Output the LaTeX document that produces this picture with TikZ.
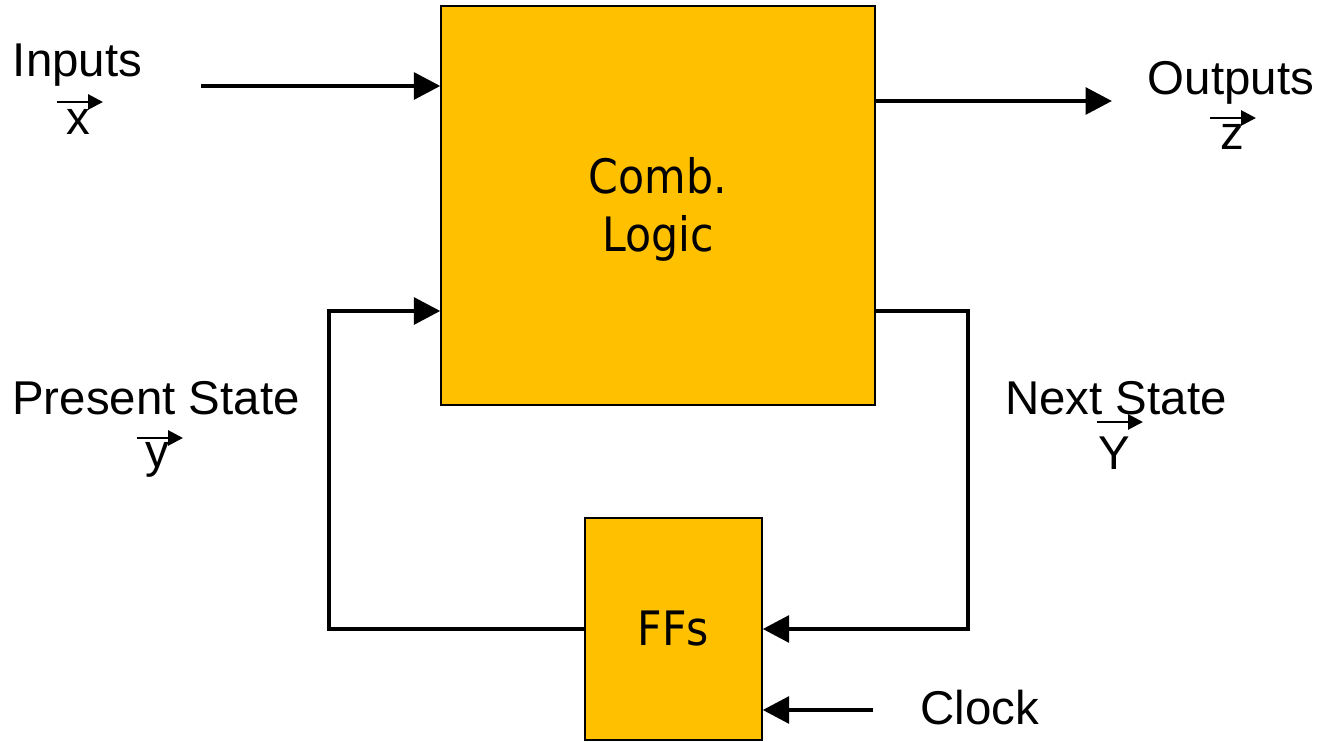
\documentclass[tikz,border=0pt]{standalone}
\usepackage{fontspec}
\setmainfont{Liberation Sans}
\newfontfamily\boxfont{DejaVu Sans Condensed}
\usetikzlibrary{calc,arrows.meta}
\definecolor{blockfill}{HTML}{FFC000}

\begin{document}
\begin{tikzpicture}[x=0.02cm,y=-0.02cm,
  block/.style={draw=black,line width=0.8pt,fill=blockfill,inner sep=0pt,align=center,
    font=\boxfont\fontsize{27}{33}\selectfont},
  wire/.style={line width=2.7pt},
  sig/.style={wire,-{Triangle[length=15pt,width=15pt]}},
  lbl/.style={font=\fontsize{27}{32}\selectfont,anchor=base,inner sep=0pt},
  vecarrow/.style={line width=1.6pt,-{Triangle[length=8.5pt,width=8.5pt]}}]
  \useasboundingbox (0,0) rectangle (1319,742);
  % Blocks
  \node[block,minimum width=8.68cm,minimum height=7.98cm] (comb) at (658,205.5) {};
  \node[font=\boxfont\fontsize{27}{33}\selectfont,align=center,inner sep=0pt] (combtxt) at (658,209.5) {Comb.\\Logic};
  \node[block,minimum width=3.54cm,minimum height=4.44cm] (ffs) at (673.5,629) {FFs};
  % Labels
  \node[lbl] (inlbl) at (77.5,77) {Inputs};
  \node[lbl] (xl) at (78,135) {x};
  \node[lbl] (outlbl) at (1231,95) {Outputs};
  \node[lbl] (zl) at (1232,150) {z};
  \node[lbl] (pslbl) at (156,415) {Present State};
  \node[lbl] (yl) at (157,468) {y};
  \node[lbl] (nslbl) at (1116,415) {Next State};
  \node[lbl] (bigyl) at (1114,470) {Y};
  \node[lbl] (clklbl) at (980,725) {Clock};
  % Vector arrows over the letters
  \foreach \n/\dx/\dy in {xl/-21/-33, zl/-22/-32, yl/-20/-30, bigyl/-17/-48}
    \draw[vecarrow] ($(\n.base)+(\dx,\dy)$) -- ++(46,0);
  % Signals
  \coordinate (in) at (201,86);
  \coordinate (out) at (1112,101);
  \coordinate (psturn) at (329,311);
  \coordinate (nsturn) at (968,311);
  \coordinate (clk) at (873,710);
  \draw[sig] (in) -- (in -| comb.west);
  \draw[sig] (out -| comb.east) -- (out);
  \draw[sig] (ffs.west) -| (psturn) -- (psturn -| comb.west);
  \draw[sig] (nsturn -| comb.east) -- (nsturn) |- (ffs.east);
  \draw[sig] (clk) -- (clk -| ffs.east);
\end{tikzpicture}
\end{document}
